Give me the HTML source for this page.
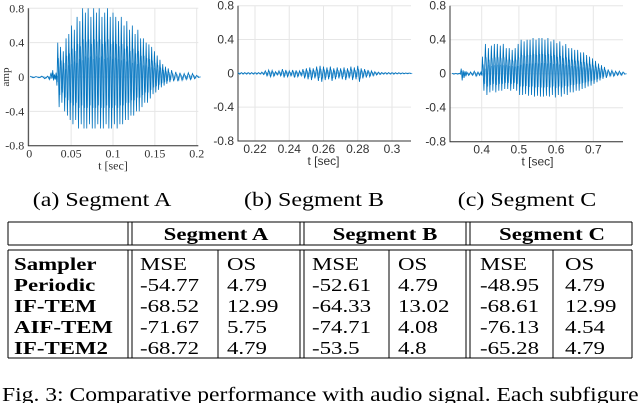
<!DOCTYPE html>
<html><head><meta charset="utf-8"><style>
html,body{margin:0;padding:0;background:#fff;}
svg{display:block;}
.ser{font-family:"Liberation Serif",serif;}
.san{font-family:"Liberation Sans",sans-serif;}
</style></head><body>
<svg id="fig" width="640" height="403" viewBox="0 0 640 403" xmlns="http://www.w3.org/2000/svg">
<g id="chartA"></g>
<g id="chartB"></g>
<g id="chartC"></g>
<text class="ser" transform="translate(102,206) scale(1.2,1)" font-size="20" text-anchor="middle">(a) Segment A</text>
<text class="ser" transform="translate(314,206) scale(1.2,1)" font-size="20" text-anchor="middle">(b) Segment B</text>
<text class="ser" transform="translate(527,206) scale(1.2,1)" font-size="20" text-anchor="middle">(c) Segment C</text>
<g id="table"></g>
<text class="ser" transform="translate(2,401) scale(1.18,1)" font-size="20">Fig. 3: Comparative performance with audio signal. Each subfigure</text>
</svg>
<script>
// ---- Chart data ----
const yTicks = [0.8, 0.4, 0, -0.4, -0.8];
const yTickLabels = ["0.8", "0.4", "0", "-0.4", "-0.8"];
const aXTicks = [0, 0.05, 0.1, 0.15, 0.2];
const aXTickLabels = ["0", "0.05", "0.1", "0.15", "0.2"];
const bXTicks = [0.22, 0.24, 0.26, 0.28, 0.3];
const bXTickLabels = ["0.22", "0.24", "0.26", "0.28", "0.3"];
const cXTicks = [0.4, 0.5, 0.6, 0.7];
const cXTickLabels = ["0.4", "0.5", "0.6", "0.7"];

// Segment A: per-cycle peak times / upper / lower values
const aTimes = [0.001,0.008,0.015,0.022,0.026,0.028,0.030,0.032,
0.034,0.0373,0.0406,0.0439,0.0472,0.0505,0.0538,0.0571,0.0604,0.0637,0.067,0.0703,0.0736,0.0769,0.0802,0.0835,0.0868,0.0901,0.0934,0.0967,0.1,0.1033,0.1066,0.1099,0.1132,0.1165,0.1198,0.1231,0.1264,0.1297,0.133,0.1363,0.1396,0.1429,0.1462,0.1495,0.1528,0.1561,0.1594,0.1627,0.166,0.17,0.175,0.18,0.185,0.19,0.195,0.2];
const aHi = [0.01,0.005,0.01,0.01,0.05,0.08,0.03,0.05,
0.4,0.35,0.3,0.45,0.5,0.6,0.55,0.7,0.65,0.8,0.75,0.8,0.7,0.8,0.75,0.8,0.7,0.75,0.8,0.7,0.75,0.7,0.65,0.7,0.6,0.65,0.55,0.6,0.5,0.55,0.45,0.45,0.4,0.38,0.35,0.3,0.25,0.2,0.15,0.12,0.1,0.08,0.06,0.05,0.04,0.05,0.04,0.02];
const aLo = [-0.01,-0.01,-0.02,-0.03,-0.02,-0.04,-0.03,-0.1,
-0.35,-0.3,-0.4,-0.45,-0.5,-0.55,-0.5,-0.6,-0.55,-0.6,-0.6,-0.55,-0.6,-0.6,-0.55,-0.6,-0.6,-0.55,-0.6,-0.6,-0.55,-0.6,-0.55,-0.55,-0.5,-0.5,-0.45,-0.45,-0.4,-0.4,-0.35,-0.3,-0.3,-0.25,-0.2,-0.18,-0.15,-0.12,-0.1,-0.08,-0.06,-0.05,-0.05,-0.04,-0.03,-0.03,-0.02,-0.01];

// Segment B: envelope sampled every 0.002 s from 0.21
const bTimes = [0.21,0.212,0.214,0.216,0.218,0.22,0.222,0.224,0.226,0.228,0.23,0.232,0.234,0.236,0.238,0.24,0.242,0.244,0.246,0.248,0.25,0.252,0.254,0.256,0.258,0.26,0.262,0.264,0.266,0.268,0.27,0.272,0.274,0.276,0.278,0.28,0.282,0.284,0.286,0.288,0.29,0.292,0.294,0.296,0.298,0.3,0.302,0.304,0.306,0.308,0.31];
const bHi = [0.01,0.01,0.01,0.01,0.01,0.01,0.01,0.015,0.03,0.04,0.035,0.02,0.03,0.05,0.04,0.03,0.04,0.035,0.03,0.05,0.06,0.07,0.06,0.08,0.09,0.08,0.07,0.08,0.06,0.07,0.06,0.07,0.06,0.08,0.07,0.09,0.06,0.05,0.04,0.03,0.02,0.015,0.01,0.01,0.01,0.01,0.008,0.008,0.006,0.005,0.005];
const bLo = [-0.01,-0.01,-0.01,-0.01,-0.01,-0.01,-0.01,-0.015,-0.03,-0.04,-0.035,-0.02,-0.03,-0.05,-0.04,-0.03,-0.05,-0.04,-0.03,-0.06,-0.07,-0.08,-0.06,-0.09,-0.1,-0.08,-0.07,-0.09,-0.07,-0.06,-0.07,-0.08,-0.06,-0.08,-0.07,-0.1,-0.06,-0.05,-0.04,-0.03,-0.02,-0.015,-0.01,-0.01,-0.01,-0.01,-0.008,-0.008,-0.006,-0.005,-0.005];

// Segment C: per-cycle peaks
const cTimes = [0.32,0.33,0.34,0.345,0.35,0.355,0.36,0.37,0.38,0.39,0.398,
0.402,0.41,0.418,0.426,0.434,0.442,0.45,0.458,0.466,0.474,0.482,0.49,0.498,0.506,0.514,0.522,0.53,0.538,0.546,0.554,0.562,0.57,0.578,0.586,0.594,0.602,0.61,0.618,0.626,0.634,0.642,0.65,0.658,0.666,0.674,0.682,0.69,0.698,0.706,0.714,0.722,0.73,0.74,0.75,0.76,0.77,0.78];
const cHi = [0.005,0.005,0.005,0.06,0.04,0.03,0.02,0.02,0.03,0.02,0.02,
0.2,0.35,0.3,0.33,0.35,0.35,0.33,0.35,0.3,0.3,0.28,0.3,0.35,0.4,0.38,0.4,0.4,0.42,0.4,0.42,0.42,0.4,0.42,0.38,0.4,0.36,0.38,0.33,0.35,0.3,0.3,0.28,0.28,0.25,0.25,0.22,0.2,0.18,0.15,0.12,0.1,0.08,0.05,0.04,0.03,0.03,0.02];
const cLo = [-0.005,-0.005,-0.005,-0.08,-0.05,-0.03,-0.02,-0.02,-0.03,-0.02,-0.02,
-0.2,-0.25,-0.22,-0.2,-0.22,-0.2,-0.2,-0.18,-0.18,-0.2,-0.18,-0.2,-0.25,-0.25,-0.24,-0.26,-0.25,-0.27,-0.26,-0.27,-0.27,-0.26,-0.27,-0.25,-0.28,-0.25,-0.27,-0.24,-0.25,-0.22,-0.22,-0.2,-0.2,-0.18,-0.17,-0.15,-0.14,-0.12,-0.1,-0.08,-0.06,-0.05,-0.03,-0.03,-0.02,-0.02,-0.01];

const NS = "http://www.w3.org/2000/svg";
function mk(tag, attrs, parent){const e=document.createElementNS(NS,tag);for(const k in attrs)e.setAttribute(k,attrs[k]);parent.appendChild(e);return e;}

function drawChart(g, cfg){
  const xs = t => cfg.px0 + (t - cfg.t0)/(cfg.t1 - cfg.t0)*(cfg.px1 - cfg.px0);
  const ys = v => cfg.py0 + (0.8 - v)/1.6*(cfg.py1 - cfg.py0);
  const fcls = cfg.serif ? "ser" : "san";
  cfg.xt.forEach((t,i)=>{
    const l=mk("line",{x1:xs(t),x2:xs(t),y1:cfg.top,y2:cfg.bottom,stroke:"#e6e6e6","stroke-width":1},g);
    
    
    const tx=mk("text",{x:xs(t),y:cfg.bottom+12,"font-size":12,"text-anchor":"middle",fill:"#333",class:fcls},g);
    tx.textContent=cfg.xl[i];
    
    
  });
  yTicks.forEach((v,i)=>{
    const l=mk("line",{x1:cfg.left,x2:cfg.right,y1:ys(v),y2:ys(v),stroke:"#e6e6e6","stroke-width":1},g);
    
    
    const tx=mk("text",{x:cfg.left-4,y:ys(v)+4,"font-size":12,"text-anchor":"end",fill:"#333",class:fcls},g);
    tx.textContent=yTickLabels[i];
    
    
  });
  const ax=mk("path",{d:`M${cfg.left},${cfg.top}V${cfg.bottom}H${cfg.right}`,fill:"none",stroke:"#333","stroke-width":1},g);
  
  
  let d="", d2="";
  const T=cfg.times;
  for(let i=0;i<T.length;i++){
    const dt = i<T.length-1 ? T[i+1]-T[i] : (T[i]-T[i-1]);
    const x=xs(T[i]), xm=xs(T[i]+dt*0.5), xq=xs(T[i]+dt*0.25), x3=xs(T[i]+dt*0.75);
    d += (i===0?"M":"L")+x+","+ys(cfg.hi[i])+"L"+xm+","+ys(cfg.lo[i]);
    d2 += "M"+xq+","+ys(cfg.hi[i]*0.55)+"L"+x3+","+ys(cfg.lo[i]*0.6)+"L"+xs(T[i]+dt*0.9)+","+ys(cfg.hi[i]*0.3);
  }
  const p2=mk("path",{d:d2,fill:"none",stroke:"#5aa7dd","stroke-width":0.9},g);
  
  
  const p=mk("path",{d:d,fill:"none",stroke:"#0072BD","stroke-width":0.8},g);
  
  
  const xl=mk("text",{x:(cfg.px0+cfg.px1)/2,y:cfg.bottom+24,"font-size":12,"text-anchor":"middle",fill:"#333",class:fcls},g);
  xl.textContent="t [sec]";
  
  
}

const gA=document.getElementById("chartA");
drawChart(gA,{t0:0,t1:0.2,px0:29.3,px1:196.7,py0:8.3,py1:145.7,left:28.3,right:198.3,top:8.3,bottom:145.7,xt:aXTicks,xl:aXTickLabels,times:aTimes,hi:aHi,lo:aLo,serif:true});
const ylA=mk("text",{x:0,y:0,"font-size":11,"text-anchor":"middle",fill:"#333",class:"ser",transform:"translate(9,77) rotate(-90)"},gA);
ylA.textContent="amp";


drawChart(document.getElementById("chartB"),{t0:0.22,t1:0.3,px0:255,px1:392,py0:5.7,py1:141,left:238,right:411,top:5.7,bottom:141,xt:bXTicks,xl:bXTickLabels,times:bTimes,hi:bHi,lo:bLo,serif:false});
drawChart(document.getElementById("chartC"),{t0:0.4,t1:0.7,px0:481.7,px1:593.3,py0:5.7,py1:141.7,left:450,right:623,top:5.7,bottom:141.7,xt:cXTicks,xl:cXTickLabels,times:cTimes,hi:cHi,lo:cLo,serif:false});

// ---- Table ----
const tbl=document.getElementById("table");
const L=8,R=632,T1=222,B1=245,T2=250,B2=358;
function ln(x1,y1,x2,y2){const l=mk("line",{x1,y1,x2,y2,stroke:"#000","stroke-width":1},tbl);}
[[T1,B1],[T2,B2]].forEach(([a,b])=>{
  ln(L,a,R,a);ln(L,b,R,b);ln(L,a,L,b);ln(R,a,R,b);
  [128,132,300,304,466,470].forEach(x=>ln(x,a,x,b));
});
[218,389,553].forEach(x=>ln(x,T2,x,B2));
function tx(s,x,y,bold,anchor,name){const t=mk("text",{transform:`translate(${x},${y}) scale(1.27,1)`,"font-size":18,class:"ser","font-weight":bold?"bold":"normal","text-anchor":anchor||"start"},tbl);t.textContent=s;}
tx("Segment A",216,240,true,"middle","header-segment-a");
tx("Segment B",385,240,true,"middle","header-segment-b");
tx("Segment C",552,240,true,"middle","header-segment-c");
const rows=[["Sampler","MSE","OS","MSE","OS","MSE","OS"],
["Periodic","-54.77","4.79","-52.61","4.79","-48.95","4.79"],
["IF-TEM","-68.52","12.99","-64.33","13.02","-68.61","12.99"],
["AIF-TEM","-71.67","5.75","-74.71","4.08","-76.13","4.54"],
["IF-TEM2","-68.72","4.79","-53.5","4.8","-65.28","4.79"]];
const colX=[14,140,227,312,398,480,565];
rows.forEach((r,i)=>{const y=270+i*21;r.forEach((c,j)=>tx(c,colX[j],y,j===0,"start",j===0?"row-label":"table-cell"));});
</script>
</body></html>
